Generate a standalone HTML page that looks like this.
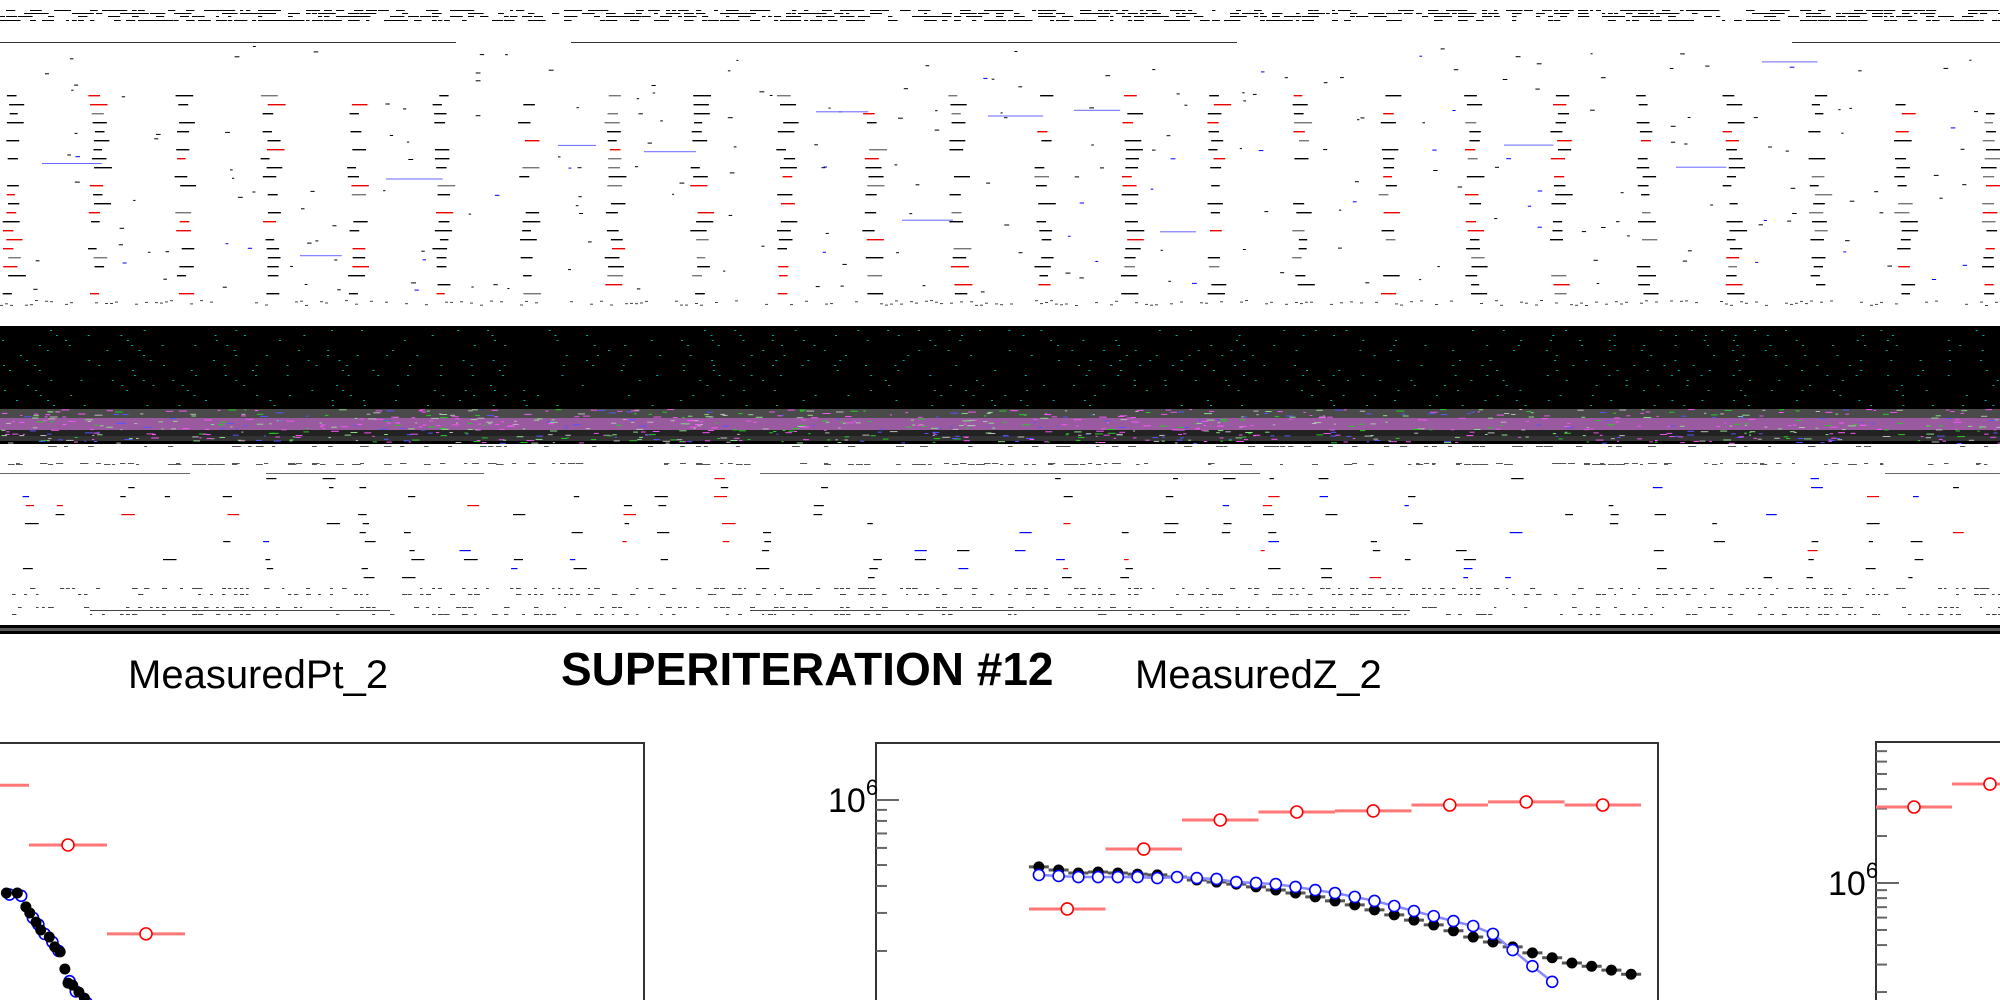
<!DOCTYPE html>
<html><head><meta charset="utf-8"><style>
html,body{margin:0;padding:0;background:#fff;}
svg{display:block;font-family:"Liberation Sans",sans-serif;}
</style></head><body>
<svg id="s" width="2000" height="1000" viewBox="0 0 2000 1000">
<g id="deco"></g>
<text x="128" y="688" font-size="40">MeasuredPt_2</text>
<text x="561" y="685" font-size="46" font-weight="bold">SUPERITERATION #12</text>
<text x="1135" y="688" font-size="40">MeasuredZ_2</text>
<g id="p1"></g>
<g id="p2"></g>
<g id="p3"></g>
</svg>
<script>
// ---- Panel 1 data ----
const p1RedBins = [-0.5, 0.5, 1.5];
const p1Red = [1.17e6, 6.19e5, 2.40e5];
const p1BlackX = [-0.29,-0.15,-0.04,0.01,0.09,0.15,0.26,0.33,0.40,0.46,0.50,0.56,0.64,0.71];
const p1Black = [3.71e5,3.71e5,3.20e5,3.00e5,2.72e5,2.50e5,2.32e5,2.09e5,1.98e5,1.65e5,1.42e5,1.39e5,1.29e5,1.21e5];
const p1BlueX = [-0.25,-0.10,0.05,0.12,0.20,0.30,0.38,0.52,0.60,0.74];
const p1Blue = [3.65e5,3.60e5,2.85e5,2.65e5,2.40e5,2.20e5,2.00e5,1.45e5,1.30e5,1.15e5];
// ---- Panel 2 data ----
const p2RedBins = [0.5,1.5,2.5,3.5,4.5,5.5,6.5,7.5];
const p2Red = [3.13e5,5.93e5,8.08e5,8.8e5,8.9e5,9.48e5,9.8e5,9.48e5];
const p2Black = [4.90e5,4.74e5,4.59e5,4.64e5,4.59e5,4.54e5,4.50e5,4.40e5,4.26e5,4.17e5,4.08e5,3.96e5,3.83e5,3.71e5,3.56e5,3.41e5,3.27e5,3.10e5,2.94e5,2.78e5,2.64e5,2.48e5,2.32e5,2.20e5,2.09e5,1.96e5,1.86e5,1.76e5,1.70e5,1.63e5,1.56e5];
const p2Blue = [4.50e5,4.45e5,4.40e5,4.40e5,4.40e5,4.40e5,4.35e5,4.40e5,4.35e5,4.31e5,4.17e5,4.13e5,4.08e5,3.96e5,3.83e5,3.71e5,3.56e5,3.41e5,3.23e5,3.06e5,2.90e5,2.75e5,2.61e5,2.40e5,2.02e5,1.70e5,1.44e5];
const p2Ticks = [2e5,3e5,4e5,5e5,6e5,7e5,8e5,9e5,1e6];
// ---- Panel 3 data ----
const p3RedBins = [0.5, 1.5];
const p3Red = [3.07e6, 4.31e6];
const p3Ticks = [2e5,3e5,4e5,5e5,6e5,7e5,8e5,9e5,1e6,2e6,3e6,4e6,5e6,6e6,7e6,8e6,9e6];

const NS='http://www.w3.org/2000/svg';
function mk(p,t,a){const e=document.createElementNS(NS,t);for(const k in a)e.setAttribute(k,a[k]);p.appendChild(e);return e;}
function logY(y0,ppd){return v=>y0-(Math.log10(v)-6)*ppd;}
function linX(x0,w){return u=>x0+u*w;}

function frame(g,x,y,w,h){const r=mk(g,'rect',{x:x,y:y,width:w,height:h,fill:'none',stroke:'#333','stroke-width':2});
}
function redPts(g,X,Y,bins,vals){bins.forEach((b,i)=>{const cx=X(b),cy=Y(vals[i]);
const l=mk(g,'line',{x1:X(b-0.5),x2:X(b+0.5),y1:cy,y2:cy,stroke:'#f77','stroke-width':3});

const c=mk(g,'circle',{cx:cx,cy:cy,r:6,fill:'#fff',stroke:'#f00','stroke-width':1.6});
});}
function blackPts(g,xs,ys,X,Y,hw){xs.forEach((u,i)=>{const cx=X(u),cy=Y(ys[i]);
if(hw){const l=mk(g,'line',{x1:cx-hw,x2:cx+hw,y1:cy,y2:cy,stroke:'#555','stroke-width':3});
}
const c=mk(g,'circle',{cx:cx,cy:cy,r:5.5,fill:'#000'});
});}
function bluePts(g,xs,ys,X,Y,line){if(line){const pl=mk(g,'polyline',{points:xs.map((u,i)=>X(u)+','+Y(ys[i])).join(' '),fill:'none',stroke:'#88f','stroke-width':2.5});
}
xs.forEach((u,i)=>{const c=mk(g,'circle',{cx:X(u),cy:Y(ys[i]),r:5.5,fill:'#fff',stroke:'#00f','stroke-width':1.6});
});}
function ticks(g,x,Y,tk,top,bot){tk.forEach(v=>{const y=Y(v);if(y<top||y>bot)return;const major=Math.abs(Math.log10(v)-Math.round(Math.log10(v)))<1e-9;
const l=mk(g,'line',{x1:x,x2:x+(major?23:11),y1:y,y2:y,stroke:'#666','stroke-width':2});

if(major){const t=mk(g,'text',{x:x-48,y:y+12,'font-size':34});t.textContent='10';

const s=mk(t,'tspan',{dy:-17,'font-size':22});s.textContent=Math.round(Math.log10(v));}});}

// Panel 1
(function(){const g=document.getElementById('p1');const X=linX(29,78),Y=logY(800,216);
frame(g,-2,743,646,300);redPts(g,X,Y,p1RedBins,p1Red);bluePts(g,p1BlueX,p1Blue,X,Y,false);blackPts(g,p1BlackX,p1Black,X,Y,0);})();
// Panel 2
(function(){const g=document.getElementById('p2');const X=linX(1029,76.5),Y=logY(800,216);
frame(g,876,743,782,300);ticks(g,876,Y,p2Ticks,744,1000);
redPts(g,X,Y,p2RedBins,p2Red);
const bx=p2Black.map((v,i)=>(i+0.5)*8/31);const ux=p2Blue.map((v,i)=>(i+0.5)*8/31);
blackPts(g,bx,p2Black,X,Y,10);bluePts(g,ux,p2Blue,X,Y,true);})();
// Panel 3
(function(){const g=document.getElementById('p3');const X=linX(1876,76),Y=logY(883,156);
frame(g,1876,742,200,300);ticks(g,1876,Y,p3Ticks,744,1000);redPts(g,X,Y,p3RedBins,p3Red);})();

// decorative glitch texture (non-chart)
(function(){const g=document.getElementById('deco');let s=12345;const R=()=>{s=(s*1103515245+12345)&0x7fffffff;return s/0x7fffffff;};
let h='';
const r=(x,y,w,hh,c)=>{h+=`<rect x="${x.toFixed(1)}" y="${y.toFixed(1)}" width="${w.toFixed(1)}" height="${hh}" fill="${c}"/>`;};
[10,13,16,20].forEach(y=>{for(let x=0;x<2000;x+=6){if(R()<0.45)r(x,y,3+R()*10,1,'#000');}});
r(0,42,456,1,'#333');r(571,42,666,1,'#333');r(1792,42,208,1,'#333');
for(let k=0;k<24;k++){const x0=2+k*86;for(let y=95;y<300;y+=9){if(R()<0.75){const c=R()<0.2?'#e00':(R()<0.15?'#777':'#000');r(x0+R()*8,y,8+R()*10,1.4,c);}}
for(let j=0;j<10;j++){r(x0+30+R()*50,45+R()*250,2+R()*3,1,R()<0.15?'#00f':'#000');}
if(R()<0.4)r(x0+40,60+R()*200,30+R()*30,1,'#66f');}
for(let x=0;x<2000;x+=5){if(R()<0.4)r(x,300+R()*5,3,1,'#444');}
r(0,326,2000,83,'#000');
for(let y=330;y<408;y+=5){for(let x=(y*7)%29;x<2000;x+=29+R()*4){if(R()<0.5)r(x,y,2,1,'#0aa');}}
r(0,409,2000,35,'#000');r(0,409,2000,9,'#4a4a4a');r(0,418,2000,12,'#9a5aa0');r(0,430,2000,6,'#222');r(0,436,2000,5,'#333');
for(let i=0;i<900;i++){const cs=['#e5e','#2c2','#bbb','#55f','#f5f','#8d8'];r(R()*2000,409+R()*34,2+R()*6,1,cs[Math.floor(R()*6)]);}
[446,463,464].forEach(y=>{for(let x=0;x<2000;x+=8){if(R()<0.3)r(x,y,3+R()*6,1,'#555');}});
r(0,473,190,1,'#666');r(266,473,218,1,'#666');r(760,473,500,1,'#666');r(1885,473,115,1,'#666');
for(let k=0;k<40;k++){const x0=k*50+R()*20;for(let y=478;y<585;y+=9){if(R()<0.35){const c=R()<0.15?'#e00':(R()<0.15?'#00f':'#000');r(x0+R()*10,y,4+R()*10,1.2,c);}}}
[588,594,607,614].forEach(y=>{for(let x=0;x<2000;x+=6){if(R()<0.35)r(x,y,2+R()*4,1,'#444');}});
r(90,610,300,1,'#444');r(750,610,660,1,'#444');
r(0,625,2000,3,'#000');r(0,628,2000,3,'#5a5a5a');r(0,631,2000,3,'#000');
g.innerHTML=h;})();
</script>
</body></html>
